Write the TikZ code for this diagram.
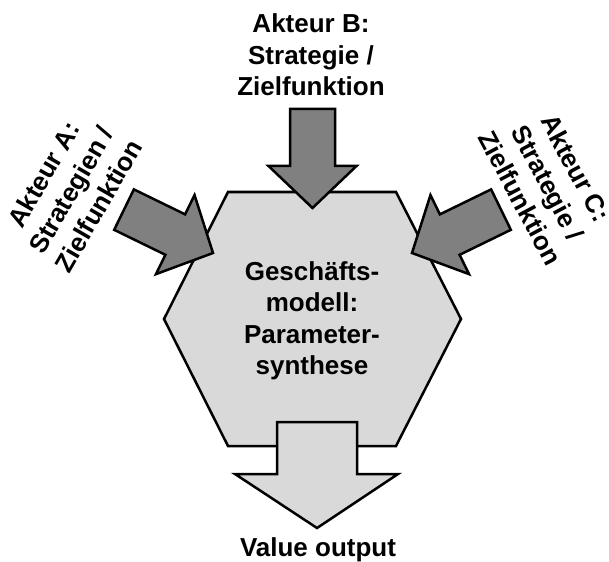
\documentclass[tikz,border=0pt]{standalone}
\usepackage{fontspec}
\setmainfont{Liberation Sans}
\definecolor{darkfill}{gray}{0.5}
\definecolor{lightfill}{gray}{0.85}

\begin{document}
\begin{tikzpicture}[x=1pt,y=-1pt,line width=2.5pt,
  lbl/.style={font=\fontsize{26}{31.5}\selectfont\bfseries, align=center, inner sep=0pt},
  darrow/.style={draw, fill=darkfill},
  larrow/.style={draw, fill=lightfill}]
\useasboundingbox (0,0) rectangle (609,561);

% business model
\draw[fill=lightfill] (228,192) -- (396,192) -- (461,319) -- (396,446) -- (228,446) -- (164,319) -- cycle;

% inputs
\draw[darrow, shift={(312.5,208)}]
(0,0) -- (44,-42) -- (22.5,-42) -- (22.5,-99) -- (-22.5,-99) -- (-22.5,-42) -- (-44,-42) -- cycle;
\draw[darrow, shift={(213,253)}, rotate=64]
(0,0) -- (44,-42) -- (22.5,-42) -- (22.5,-99) -- (-22.5,-99) -- (-22.5,-42) -- (-44,-42) -- cycle;
\draw[darrow, shift={(412,253)}, rotate=-64]
(0,0) -- (44,-42) -- (22.5,-42) -- (22.5,-99) -- (-22.5,-99) -- (-22.5,-42) -- (-44,-42) -- cycle;

% output
\draw[larrow]
(317,528) -- (398,474) -- (357,474) -- (357,422) -- (277,422) -- (277,474) -- (235,474) -- cycle;

\node[lbl] (akteurB) at (311,55) {Akteur B:\\Strategie /\\Zielfunktion};
\node[lbl, rotate=60] (akteurA) at (71,190) {Akteur A:\\Strategien /\\Zielfunktion};
\node[lbl, rotate=-62] (akteurC) at (548,183) {Akteur C:\\Strategie /\\Zielfunktion};
\node[lbl] (modell) at (312,321) {Geschäfts-\\modell:\\Parameter-\\synthese};
\node[lbl, anchor=base] (output) at (318,556) {Value output};
\end{tikzpicture}
\end{document}
